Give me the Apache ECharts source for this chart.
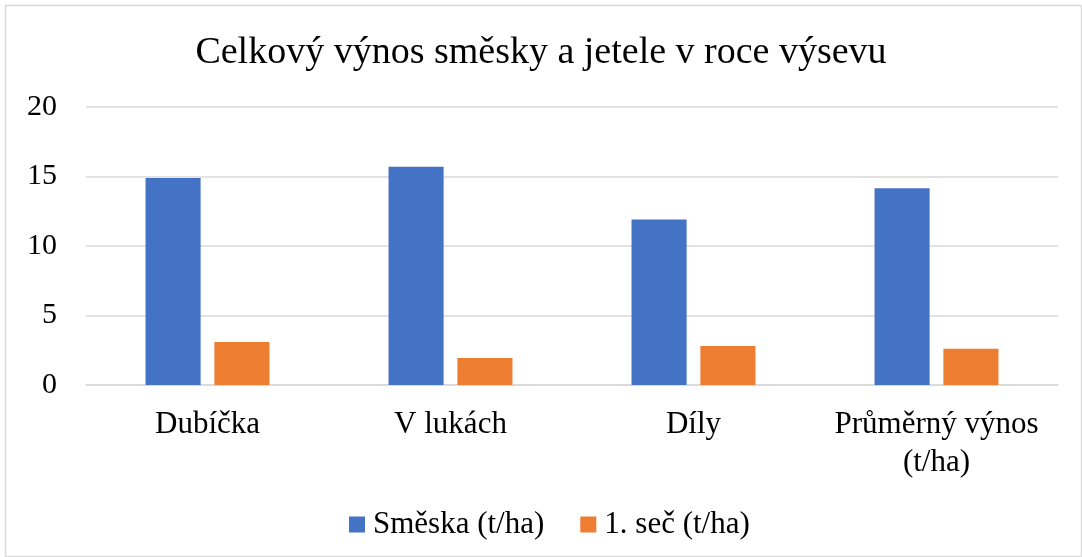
<!DOCTYPE html>
<html>
<head>
<meta charset="utf-8">
<script src="https://cdn.jsdelivr.net/npm/echarts@6/dist/echarts.min.js"></script>
<style>
html,body{margin:0;padding:0;background:#fff;}
#c{width:1082px;height:557px;}
</style>
</head>
<body>
<div id="c"></div>
<script>
const title = 'Celkový výnos směsky a jetele v roce výsevu';
const categories = ['Dubíčka', 'V lukách', 'Díly', 'Průměrný výnos\n(t/ha)'];
const seriesNames = ['Směska (t/ha)', '1. seč (t/ha)'];
const smeska = [14.9, 15.7, 11.9, 14.15];
const sec1 = [3.1, 1.95, 2.8, 2.6];
const yTicks = [0, 5, 10, 15, 20];

const font = '"Liberation Serif", "Times New Roman", serif';
const chart = echarts.init(document.getElementById('c'), null, {renderer: 'canvas'});
chart.setOption({
  backgroundColor: '#fff',
  animation: false,
  title: {
    text: title, left: 'center', top: 29,
    textStyle: {fontFamily: font, fontSize: 38, fontWeight: 'normal', color: '#000'}
  },
  legend: {
    top: 504, left: 344, itemWidth: 16, itemHeight: 16, itemGap: 36,
    icon: 'rect',
    textStyle: {fontFamily: font, fontSize: 31, color: '#000', padding: [0, 0, 0, 3]},
    data: seriesNames
  },
  grid: {left: 86, right: 24, top: 107, bottom: 172, containLabel: false},
  xAxis: {
    type: 'category', data: categories,
    axisLine: {show: true, lineStyle: {color: '#D9D9D9', width: 1.5}},
    axisTick: {show: false},
    axisLabel: {fontFamily: font, fontSize: 31, color: '#000', margin: 21, lineHeight: 38, interval: 0}
  },
  yAxis: {
    type: 'value', min: yTicks[0], max: yTicks[yTicks.length - 1], interval: 5,
    axisLine: {show: false}, axisTick: {show: false},
    splitLine: {lineStyle: {color: '#D9D9D9', width: 1.5}},
    axisLabel: {fontFamily: font, fontSize: 30, color: '#000', margin: 29}
  },
  series: [
    {name: seriesNames[0], type: 'bar', data: smeska, barGap: '25%', barCategoryGap: '49%',
     itemStyle: {color: '#4472C4'}},
    {name: seriesNames[1], type: 'bar', data: sec1, barGap: '25%', barCategoryGap: '49%',
     itemStyle: {color: '#ED7D31'}}
  ],
  graphic: [{
    type: 'rect', left: 3, top: 3, silent: true,
    shape: {width: 1076, height: 551},
    style: {fill: 'none', stroke: '#D9D9D9', lineWidth: 1.5}
  }]
});
</script>
</body>
</html>
